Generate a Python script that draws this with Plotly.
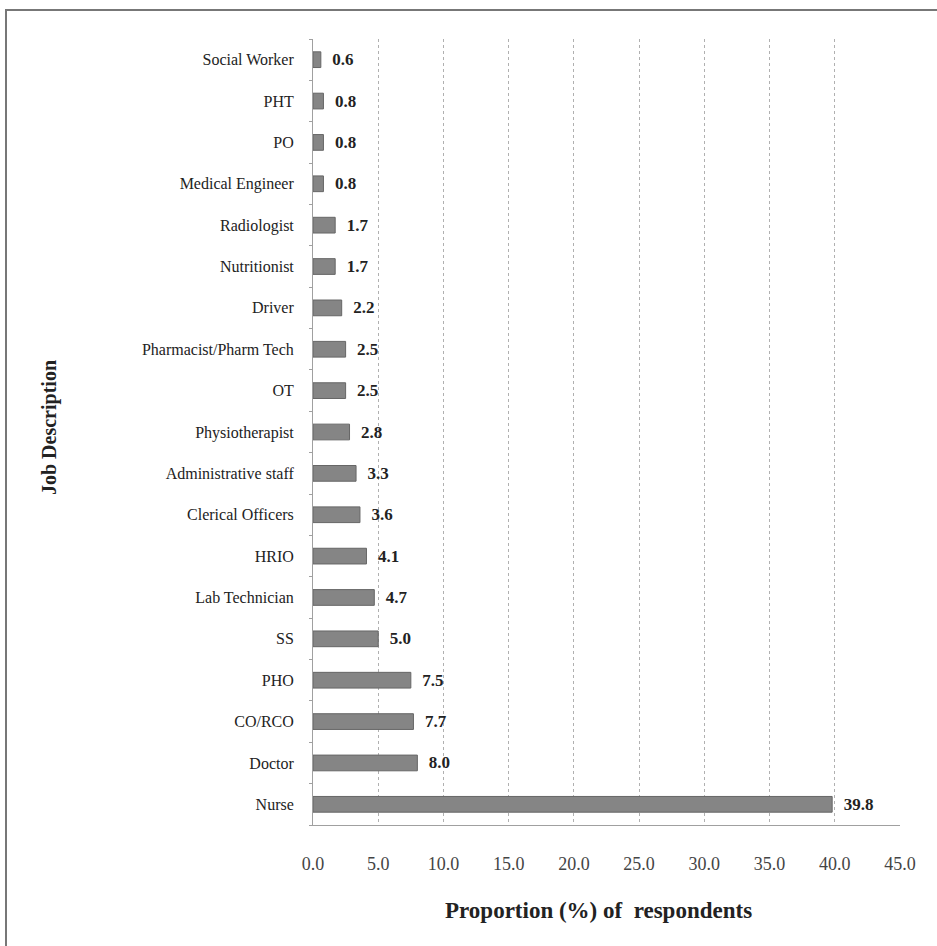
import plotly.graph_objects as go

categories = ["Nurse", "Doctor", "CO/RCO", "PHO", "SS", "Lab Technician", "HRIO",
              "Clerical Officers", "Administrative staff", "Physiotherapist", "OT",
              "Pharmacist/Pharm Tech", "Driver", "Nutritionist", "Radiologist",
              "Medical Engineer", "PO", "PHT", "Social Worker"]
values = [39.8, 8.0, 7.7, 7.5, 5.0, 4.7, 4.1, 3.6, 3.3, 2.8, 2.5, 2.5, 2.2, 1.7, 1.7,
          0.8, 0.8, 0.8, 0.6]
labels = ["  " + f"{v:.1f}" for v in values]
x_ticks = [0, 5, 10, 15, 20, 25, 30, 35, 40, 45]
x_ticktext = [f"{t:.1f}" for t in x_ticks]

FONT = "Liberation Serif"

fig = go.Figure(go.Bar(
    y=categories, x=values, orientation="h",
    text=labels, textposition="outside", cliponaxis=False, constraintext="none",
    texttemplate="<b>%{text}</b>",
    textfont=dict(family=FONT, size=17, color="#222222"),
    marker=dict(color="#858585", line=dict(color="#666666", width=1)),
    width=0.38,
))

W, H = 937, 946
L, R, T, B = 313, 37, 39, 121
pw, ph = W - L - R, H - T - B

def px2paper_x(px):
    return (px - L) / pw

def px2paper_y(py):
    return (H - B - py) / ph

fig.update_layout(
    width=W, height=H,
    margin=dict(l=L, r=R, t=T, b=B),
    paper_bgcolor="white", plot_bgcolor="white",
    showlegend=False,
    font=dict(family=FONT, size=16, color="#222222"),
    xaxis=dict(range=[0, 45], tickvals=x_ticks, ticktext=x_ticktext,
               showgrid=True, gridcolor="#b0b0b0", griddash="dot", gridwidth=1,
               zeroline=False, showline=True, linecolor="#a0a0a0", linewidth=1,
               tickfont=dict(family=FONT, size=18, color="#444444"),
               ticks="", ticklabelstandoff=22, fixedrange=True),
    yaxis=dict(categoryorder="array", categoryarray=categories,
               showgrid=False, zeroline=False, showline=True, linecolor="#a0a0a0",
               linewidth=1, ticks="outside", tickson="boundaries", ticklen=3,
               tickcolor="#a0a0a0",
               tickfont=dict(family=FONT, size=16, color="#222222"),
               ticklabelstandoff=15, range=[-0.5, 18.5], fixedrange=True),
    annotations=[
        dict(text="<b>Proportion (%) of  respondents</b>", xref="paper", yref="paper",
             x=px2paper_x(598), y=px2paper_y(911), xanchor="center", yanchor="middle",
             showarrow=False, font=dict(family=FONT, size=23, color="#222222")),
        dict(text="<b>Job Description</b>", xref="paper", yref="paper",
             x=px2paper_x(50), y=px2paper_y(428), xanchor="center", yanchor="middle",
             showarrow=False, textangle=-90,
             font=dict(family=FONT, size=20, color="#222222")),
    ],
    shapes=[
        dict(type="rect", xref="paper", yref="paper",
             x0=px2paper_x(6), x1=px2paper_x(960), y0=px2paper_y(970), y1=px2paper_y(10),
             line=dict(color="#777777", width=2)),
    ],
)

fig.write_html("out.html", config={"displayModeBar": False},
               post_script="document.body.style.margin='0';")
